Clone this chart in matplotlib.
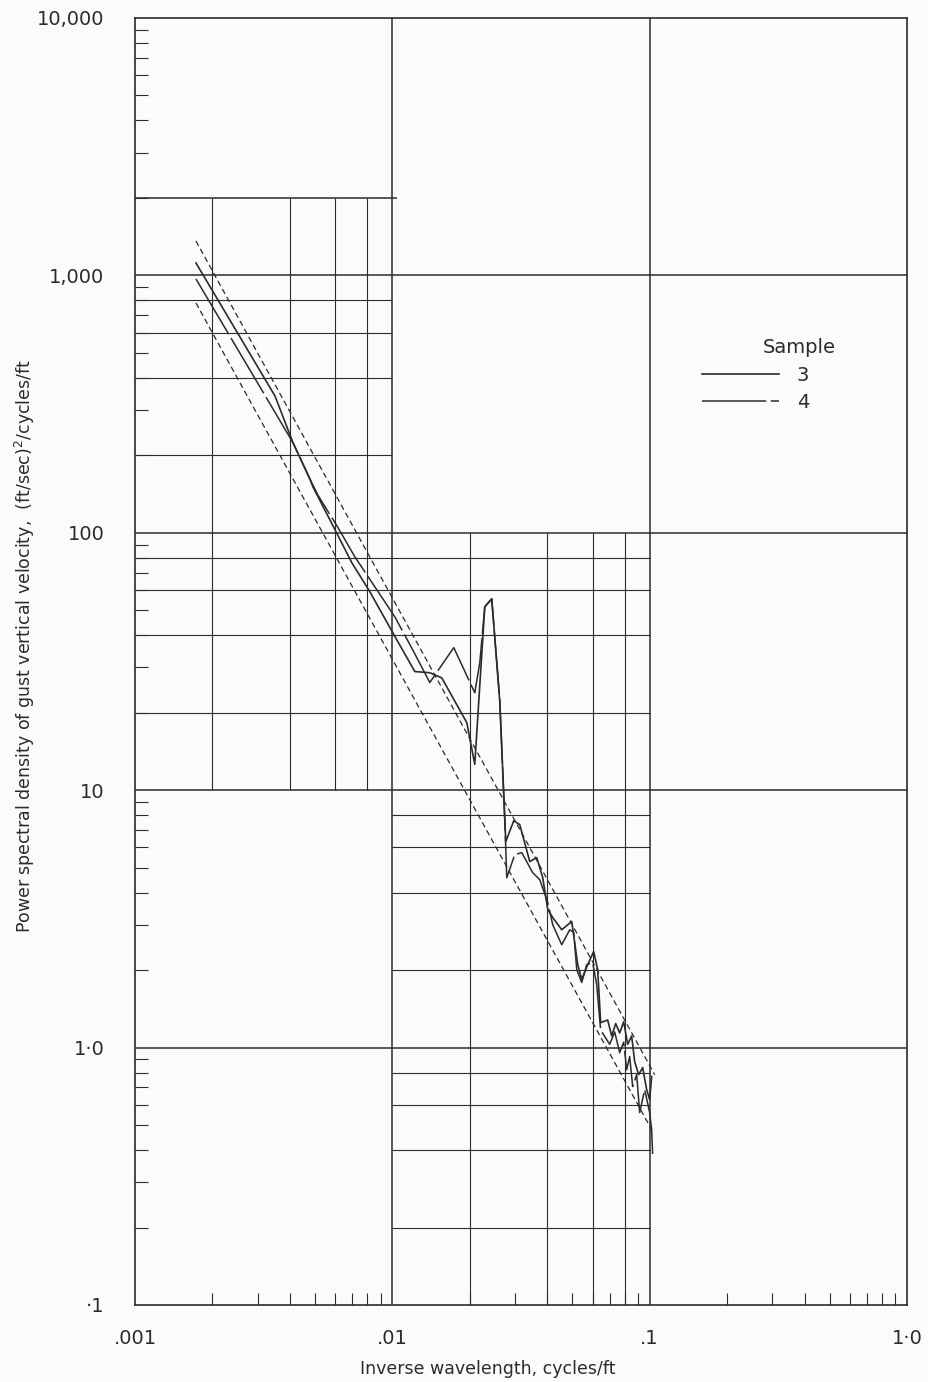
import numpy as np
import matplotlib
matplotlib.use("Agg")
import matplotlib.pyplot as plt
from matplotlib.ticker import FixedLocator, LogLocator, NullFormatter

# ---- data --------------------------------------------------------------
s3_freq = [0.001725, 0.0035, 0.00411, 0.00478, 0.00491, 0.00598, 0.00696,
           0.00818, 0.01004, 0.01223, 0.01398, 0.01557, 0.01947, 0.02091,
           0.02287, 0.02434, 0.02615, 0.02759, 0.02964, 0.03127, 0.0342,
           0.03641, 0.03841, 0.04018, 0.04201, 0.04553, 0.0498, 0.05254,
           0.05445, 0.05744, 0.06059, 0.0628, 0.0645, 0.06868, 0.07118,
           0.07379, 0.07647, 0.07925, 0.08214, 0.08513, 0.08744, 0.09063,
           0.09394, 0.09734, 0.1, 0.1018]
s3_psd = [1118, 340, 224, 162, 151, 103, 76.5,
          59.0, 40.9, 28.9, 28.6, 27.3, 18.3, 12.6,
          51.6, 55.4, 22.1, 6.31, 7.61, 7.35, 5.28,
          5.47, 4.57, 3.44, 3.20, 2.87, 3.09, 2.10,
          1.84, 2.10, 2.36, 2.01, 1.25, 1.28, 1.11,
          1.24, 1.14, 1.26, 1.03, 1.11, 0.882, 0.785,
          0.836, 0.687, 0.628, 0.772]

s4_freq = [0.001725, 0.00411, 0.00478, 0.00514, 0.00614, 0.00715, 0.00871,
           0.01022, 0.0120, 0.01398, 0.01733, 0.02091, 0.02187, 0.02287,
           0.02434, 0.02615, 0.02735, 0.02784, 0.02991, 0.03184, 0.03513,
           0.0374, 0.04018, 0.04201, 0.04553, 0.04891, 0.0507, 0.05207,
           0.05445, 0.05693, 0.06004, 0.06224, 0.0645, 0.06745, 0.06992,
           0.07312, 0.07647, 0.07925, 0.08141, 0.08362, 0.0859, 0.08902,
           0.09145, 0.09563, 0.1, 0.1018, 0.1027]
s4_psd = [969, 224, 162, 140, 105, 80.7, 60.0,
          47.2, 35.1, 26.2, 35.8, 23.9, 31.3, 51.6,
          55.4, 22.5, 7.68, 4.57, 5.62, 5.72, 4.78,
          4.49, 3.66, 3.00, 2.51, 2.87, 2.80, 2.01,
          1.79, 2.10, 2.14, 1.76, 1.17, 1.09, 1.03,
          1.15, 0.956, 1.05, 0.821, 0.923, 0.706, 0.785,
          0.559, 0.687, 0.559, 0.480, 0.384]

# envelope (dashed) lines: end points
env_freq = [0.001725, 0.1046]
env_upper = [1361, 0.785]
env_freq_lo = [0.001725, 0.1018]
env_lower = [782, 0.480]

x_major = [0.001, 0.01, 0.1, 1.0]
x_labels = [".001", ".01", ".1", "1\u00b70"]
y_major = [0.1, 1.0, 10, 100, 1000, 10000]
y_labels = ["\u00b71", "1\u00b70", "10", "100", "1,000", "10,000"]

INK = "#2b2b2b"
BG = "#fbfbfa"

plt.rcParams["font.family"] = ["DejaVu Sans"]

fig = plt.figure(figsize=(9.29, 13.82), dpi=100, facecolor=BG)
ax = fig.add_axes([135 / 929, 1 - 1305 / 1382, 772 / 929, 1287 / 1382])
ax.set_facecolor(BG)
ax.set_xscale("log")
ax.set_yscale("log")
ax.set_xlim(0.001, 1.0)
ax.set_ylim(0.1, 10000)

# ---- partial graph-paper grid --------------------------------------------
gkw = dict(colors=INK, linewidth=0.8, zorder=1)
mkw = dict(colors=INK, linewidth=1.1, zorder=1)
# major lines
ax.vlines([0.01, 0.1], 0.1, 10000, **mkw)
ax.hlines([1.0, 10, 100, 1000], 0.001, 1.0, **mkw)
# upper-left block
ax.hlines([2000], 0.001, 0.0104, **mkw)
ax.vlines([0.002, 0.004, 0.006, 0.008], 10, 2000, **gkw)
ax.hlines([200, 400, 600, 800], 0.001, 0.01, **gkw)
# middle band
ax.hlines([20, 40, 60, 80], 0.001, 0.1, **gkw)
# lower block
ax.vlines([0.02, 0.04, 0.06, 0.08], 0.1, 100, **gkw)
ax.hlines([2, 4, 6, 8], 0.01, 0.1, **gkw)
ax.hlines([0.2, 0.4, 0.6, 0.8], 0.01, 0.1, **gkw)

# ---- curves ---------------------------------------------------------------
ax.plot(env_freq, env_upper, color=INK, lw=0.9, dashes=(4.5, 2.8), zorder=3)
ax.plot(env_freq_lo, env_lower, color=INK, lw=0.9, dashes=(4.5, 2.8), zorder=3)
l3, = ax.plot(s3_freq, s3_psd, color=INK, lw=1.2, zorder=4)
l4, = ax.plot(s4_freq, s4_psd, color=INK, lw=1.1, dashes=(42, 3), zorder=4)

# ---- ticks ----------------------------------------------------------------
ax.xaxis.set_major_locator(FixedLocator(x_major))
ax.set_xticklabels(x_labels)
ax.yaxis.set_major_locator(FixedLocator(y_major))
ax.set_yticklabels(y_labels)
ax.xaxis.set_minor_locator(LogLocator(base=10, subs=np.arange(2, 10), numticks=20))
ax.yaxis.set_minor_locator(LogLocator(base=10, subs=np.arange(2, 10), numticks=20))
ax.xaxis.set_minor_formatter(NullFormatter())
ax.yaxis.set_minor_formatter(NullFormatter())
ax.tick_params(which="major", length=0, labelsize=14, colors=INK)
ax.tick_params(axis="y", which="major", pad=22)
ax.tick_params(axis="x", which="major", pad=17)
ax.tick_params(which="minor", direction="in", length=9, width=0.8, color=INK)
for sp in ax.spines.values():
    sp.set_edgecolor(INK)
    sp.set_linewidth(1.2)

ax.set_xlabel("Inverse wavelength, cycles/ft", fontsize=12.5, color=INK)
ax.set_ylabel("Power spectral density of gust vertical velocity,  (ft/sec)$^2$/cycles/ft",
              fontsize=12.5, color=INK)
ax.xaxis.set_label_coords(0.457, -0.043)
ax.yaxis.set_label_coords(-0.127, 0.512)

# ---- legend ---------------------------------------------------------------
ax.legend(handles=[l3, l4], labels=["3", "4"], frameon=False, fontsize=14,
          handlelength=4.0, handletextpad=0.9, labelspacing=0.45,
          loc="upper left", bbox_to_anchor=(0.724, 0.736), borderaxespad=0,
          labelcolor=INK)
ax.text(0.861, 0.744, "Sample", transform=ax.transAxes, ha="center", va="center",
        fontsize=14, color=INK)

fig.savefig("out.png", dpi=100, facecolor=BG)
